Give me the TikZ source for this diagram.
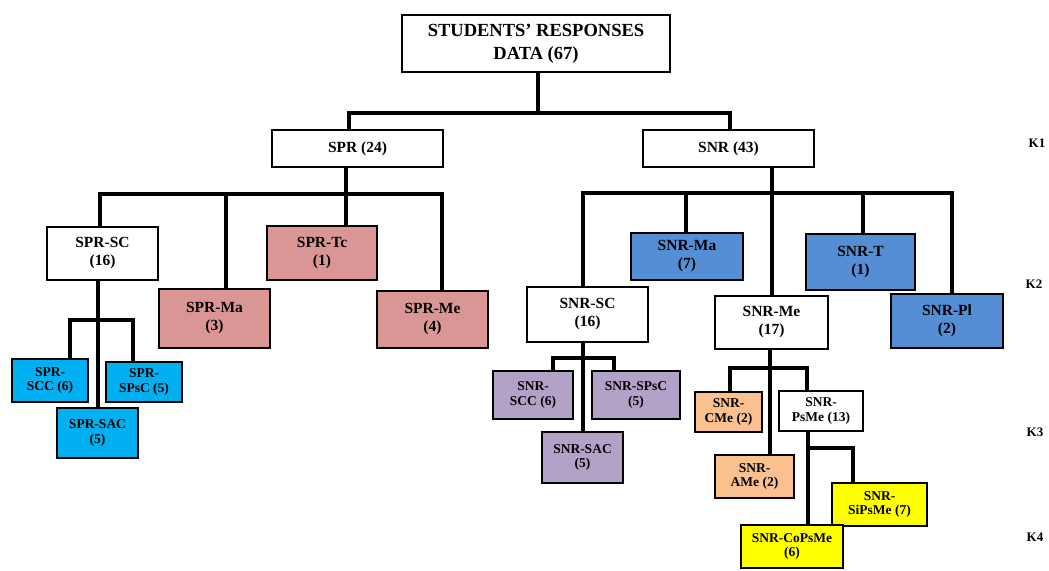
\documentclass[tikz,border=0pt]{standalone}
\usepackage{fontspec}
\setmainfont{Liberation Serif}
\usepackage{tikz}
\usetikzlibrary{calc}

\definecolor{rosebox}{HTML}{D99694}
\definecolor{cyanbox}{HTML}{00B0F0}
\definecolor{bluebox}{HTML}{558ED5}
\definecolor{lilacbox}{HTML}{B3A2C7}
\definecolor{peachbox}{HTML}{FAC090}
\definecolor{yellowbox}{HTML}{FFFF00}

\tikzset{
  box/.style={draw, line width=2.4pt, align=center, inner sep=0pt,
    font=\bfseries\fontsize{15.5}{18}\selectfont},
  smallbox/.style={box, font=\bfseries\fontsize{13.5}{14.5}\selectfont},
  link/.style={line width=4.5pt},
  level/.style={font=\bfseries\fontsize{13}{15}\selectfont}
}

\begin{document}
\begin{tikzpicture}[x=1pt, y=-1pt]
    \useasboundingbox (0,0) rectangle (1049,570);
    % top
    \node[box, minimum width=268, minimum height=57, font=\bfseries\fontsize{18.5}{23}\selectfont] (root) at (536,43.5) {STUDENTS’ RESPONSES\\DATA (67)};
    \node[box, minimum width=171, minimum height=37] (spr) at (357.5,148.5) {SPR (24)};
    \node[box, minimum width=171, minimum height=37] (snr) at (728.5,148.5) {SNR (43)};
    % SPR side
    \node[box, minimum width=111, minimum height=53] (sprsc) at (102.5,253.5) {SPR-SC\\(16)};
    \node[box, fill=rosebox, minimum width=111, minimum height=59] (sprma) at (214.5,318.5) {SPR-Ma\\(3)};
    \node[box, fill=rosebox, minimum width=110, minimum height=54] (sprtc) at (322,253) {SPR-Tc\\(1)};
    \node[box, fill=rosebox, minimum width=111, minimum height=57] (sprme) at (432.5,319.5) {SPR-Me\\(4)};
    \node[smallbox, fill=cyanbox, minimum width=76, minimum height=43] (sprscc) at (50,380.5) {SPR-\\SCC (6)};
    \node[smallbox, fill=cyanbox, minimum width=76, minimum height=40] (sprspsc) at (144,382) {SPR-\\SPsC (5)};
    \node[smallbox, fill=cyanbox, minimum width=81, minimum height=50] (sprsac) at (97.5,433) {SPR-SAC\\(5)};
    % SNR side
    \node[box, fill=bluebox, minimum width=112, minimum height=47] (snrma) at (687,256.5) {SNR-Ma\\(7)};
    \node[box, fill=bluebox, minimum width=109, minimum height=56] (snrt) at (860.5,262) {SNR-T\\(1)};
    \node[box, minimum width=113, minimum height=53] (snrme) at (771.5,322.5) {SNR-Me\\(17)};
    \node[box, fill=bluebox, minimum width=112, minimum height=54] (snrpl) at (947,321) {SNR-Pl\\(2)};
    \node[box, minimum width=121, minimum height=55] (snrsc) at (587.5,314.5) {SNR-SC\\(16)};
    \node[smallbox, fill=lilacbox, minimum width=80, minimum height=48] (snrscc) at (533,395) {SNR-\\SCC (6)};
    \node[smallbox, fill=lilacbox, minimum width=88, minimum height=48] (snrspsc) at (636,395) {SNR-SPsC\\(5)};
    \node[smallbox, fill=lilacbox, minimum width=81, minimum height=51] (snrsac) at (582.5,457.5) {SNR-SAC\\(5)};
    \node[smallbox, fill=peachbox, minimum width=67, minimum height=40] (snrcme) at (728.5,412) {SNR-\\CMe (2)};
    \node[smallbox, minimum width=84, minimum height=40] (snrpsme) at (821,411) {SNR-\\PsMe (13)};
    \node[smallbox, fill=peachbox, minimum width=79, minimum height=43] (snrame) at (754.5,476.5) {SNR-\\AMe (2)};
    \node[smallbox, fill=yellowbox, minimum width=95, minimum height=43] (snrsipsme) at (879.5,504.5) {SNR-\\SiPsMe (7)};
    \node[smallbox, fill=yellowbox, minimum width=102, minimum height=43] (snrcopsme) at (792,546.5) {SNR-CoPsMe\\(6)};
    % levels
    \node[level] (k1) at (1037,143) {K1};
    \node[level] (k2) at (1034,284) {K2};
    \node[level] (k3) at (1035,432) {K3};
    \node[level] (k4) at (1035,537) {K4};
    % first split
    \draw[link] (root.south -| 538,0) -- (538,113);
    \draw[link] (spr.north -| 349,0) |- (730,113) -- (snr.north -| 730,0);
    % SPR branches
    \draw[link] (spr.south -| 346,0) -- (346,194);
    \draw[link] (sprsc.north -| 100,0) |- (442,194) -- (sprme.north -| 442,0);
    \draw[link] (sprma.north -| 226,0) -- (226,194);
    \draw[link] (sprtc.north -| 346,0) -- (346,194);
    \draw[link] (sprsc.south -| 98,0) -- (sprsac.north -| 98,0);
    \draw[link] (sprscc.north -| 70,0) |- (133,320) -- (sprspsc.north -| 133,0);
    % SNR branches
    \draw[link] (snr.south -| 772,0) -- (772,193);
    \draw[link] (snrsc.north -| 583,0) |- (952,193) -- (snrpl.north -| 952,0);
    \draw[link] (snrma.north -| 686,0) -- (686,193);
    \draw[link] (snrme.north -| 772,0) -- (772,193);
    \draw[link] (snrt.north -| 863,0) -- (863,193);
    \draw[link] (snrsc.south -| 583,0) -- (snrsac.north -| 583,0);
    \draw[link] (snrscc.north -| 553,0) |- (614,358) -- (snrspsc.north -| 614,0);
    \draw[link] (snrme.south -| 770,0) -- (snrame.north -| 770,0);
    \draw[link] (snrcme.north -| 730,0) |- (807,368) -- (snrpsme.north -| 807,0);
    \draw[link] (snrpsme.south -| 808,0) -- (snrcopsme.north -| 808,0);
    \draw[link] (808,448) -| (snrsipsme.north -| 853,0);
\end{tikzpicture}
\end{document}
